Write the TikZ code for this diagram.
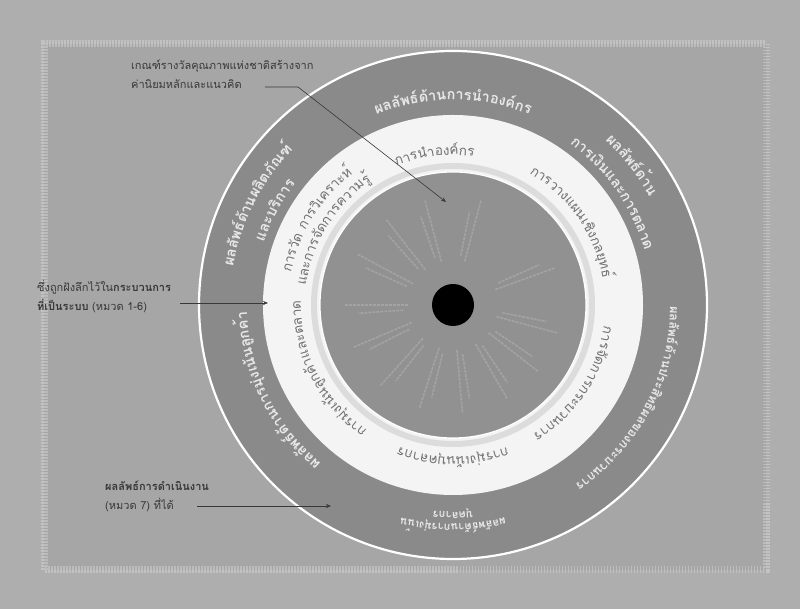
\documentclass[tikz,border=0pt]{standalone}
\usepackage{fontspec}
\newfontfamily\thaifont[Script=Thai]{Loma}
\usetikzlibrary{decorations.text,arrows.meta}
\definecolor{bgout}{HTML}{AEAEAE}
\definecolor{bgin}{HTML}{A6A6A6}
\definecolor{ringdark}{HTML}{8A8A8A}
\definecolor{band}{HTML}{F4F4F4}
\definecolor{bandshade}{HTML}{DCDCDC}
\definecolor{disk}{HTML}{919191}
\definecolor{ringtext}{HTML}{E8E8E8}
\definecolor{bandtext}{HTML}{707070}
\definecolor{calltext}{HTML}{383838}
\newcommand\ringfont{\thaifont\bfseries\fontsize{14.5}{16}\selectfont\color{ringtext}}
\newcommand\ringmid{\thaifont\bfseries\fontsize{12.5}{14}\selectfont\color{ringtext}}
\newcommand\ringsmall{\thaifont\bfseries\fontsize{11}{13}\selectfont\color{ringtext}}
\newcommand\bandfont{\thaifont\fontsize{13.5}{15}\selectfont\color{bandtext}}
\newcommand\arctext[4]{%
  \path[decorate,decoration={text along path,text align=center,text={|#3|#4}}]
    ([shift={(#2+85:#1)}]C) arc[start angle=#2+85,end angle=#2-85,radius=#1];}
\tikzset{
  callout/.style={font=\thaifont\fontsize{11}{19}\selectfont,text=calltext,anchor=west,align=left,inner sep=0pt},
  pointer/.style={draw=calltext,line width=0.6pt,-{Stealth[length=5pt,width=4pt]}},
  faint/.style={draw=white,opacity=0.17,line width=1.6pt,dash pattern=on 3pt off 1pt}
}
\begin{document}
\begin{tikzpicture}[x=1pt,y=1pt]
\useasboundingbox (0,0) rectangle (800,609);
\fill[bgout] (0,0) rectangle (800,609);
\fill[bgin] (44,39) rectangle (766,565);
\draw[white,opacity=0.25,line width=7pt,dash pattern=on 1.5pt off 1.5pt] (44,39) rectangle (766,565);
\coordinate (C) at (453,304);
% rings
\fill[ringdark] (C) circle[radius=254];
\draw[white,line width=2.2pt] (C) circle[radius=254];
\fill[band] (C) circle[radius=190];
\draw[bandshade,line width=6pt] (C) circle[radius=139];
\fill[disk] (C) circle[radius=133];
\draw[white,line width=1.2pt] (C) circle[radius=133];
% faint radial labels in the inner disk
\foreach \a in {20,75,105,128,152,180,203,228,252,275,300,322,345}{
  \draw[faint] ([shift={(\a:45)}]C) -- ([shift={(\a:108)}]C);
  \draw[faint] ([shift={(\a+6:50)}]C) -- ([shift={(\a+5:95)}]C);
}
\fill[black] (C) circle[radius=21];
% outer ring texts
\arctext{205}{90}{\ringfont}{{ผล}{ลัพธ์}{ด้าน}{การ}{นำ}{องค์}{กร}}
\arctext{224}{38}{\ringfont}{{ผล}{ลัพธ์}{ด้าน}}
\arctext{199}{35}{\ringfont}{{การ}{เงิน}{และ}{การ}{ตลาด}}
\arctext{217}{-28}{\ringmid}{{ผล}{ลัพธ์}{ด้าน}{ประ}{สิทธิ}{ผล}{ของ}{กระ}{บวน}{การ}}
\arctext{219}{-90}{\ringsmall}{{ผล}{ลัพธ์}{ด้าน}{การ}{มุ่ง}{เน้น}}
\arctext{207}{-90}{\ringsmall}{{บุค}{ลา}{กร}}
\arctext{206}{206}{\ringfont}{{ผล}{ลัพธ์}{ด้าน}{การ}{มุ่ง}{เน้น}{ลูก}{ค้า}}
\arctext{223}{153}{\ringfont}{{ผล}{ลัพธ์}{ด้าน}{ผลิต}{ภัณฑ์}}
\arctext{199}{152}{\ringfont}{{และ}{บริ}{การ}}
% band texts
\arctext{150}{97}{\bandfont}{{การ}{นำ}{องค์}{กร}}
\arctext{152}{35}{\bandfont}{{การ}{วาง}{แผน}{เชิง}{กล}{ยุทธ์}}
\arctext{152}{-33}{\bandfont}{{การ}{จัด}{การ}{กระ}{บวน}{การ}}
\arctext{152}{-90}{\bandfont}{{การ}{มุ่ง}{เน้น}{บุค}{ลา}{กร}}
\arctext{152}{207}{\bandfont}{{การ}{มุ่ง}{เน้น}{ลูก}{ค้า}{และ}{ตลาด}}
\arctext{165}{148}{\bandfont}{{การ}{วัด}{ }{การ}{วิ}{เคราะห์}}
\arctext{148}{148}{\bandfont}{{และ}{การ}{จัด}{การ}{ความ}{รู้}}
% callouts
\node[callout] (t1) at (131,535) {เกณฑ์รางวัลคุณภาพแห่งชาติสร้างจาก\\ค่านิยมหลักและแนวคิด};
\coordinate (t1a) at (265,522);
\coordinate (t1b) at (298,522);
\coordinate (t1c) at (446,407);
\draw[pointer] (t1a) -- (t1b) -- (t1c);
\node[callout] (t2) at (37,312) {ซึ่งถูกฝังลึกไว้ใน\textbf{กระบวนการ}\\\textbf{ที่เป็นระบบ} (หมวด 1-6)};
\coordinate (t2a) at (180,306);
\coordinate (t2b) at (268,306);
\draw[pointer] (t2a) -- (t2b);
\node[callout] (t3) at (105,113) {\textbf{ผลลัพธ์การดำเนินงาน}\\(หมวด 7) ที่ได้};
\coordinate (t3a) at (197,103);
\coordinate (t3b) at (331,103);
\draw[pointer] (t3a) -- (t3b);
\end{tikzpicture}
\end{document}
